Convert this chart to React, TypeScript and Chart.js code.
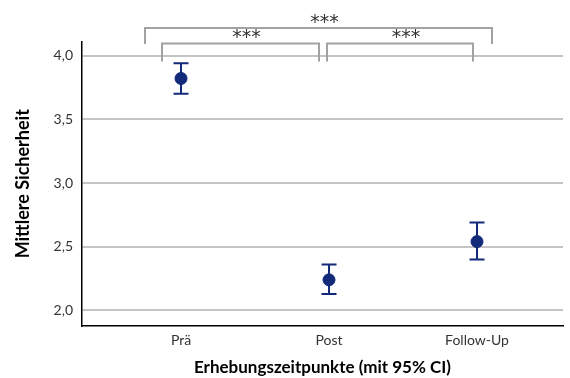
import React, { useEffect, useRef } from "react";
import { Chart, registerables } from "chart.js";

Chart.register(...registerables);

const categories = ["Prä", "Post", "Follow-Up"];
const means = [3.82, 2.24, 2.54];
const ciLower = [3.7, 2.13, 2.4];
const ciUpper = [3.94, 2.36, 2.69];
const yTickValues = [2.0, 2.5, 3.0, 3.5, 4.0];
const yTickLabels = ["2,0", "2,5", "3,0", "3,5", "4,0"];
const bracketFrom = [0, 0, 1];
const bracketTo = [2, 1, 2];
const bracketLevel = [2, 1, 1];
const bracketLabels = ["***", "***", "***"];

const NAVY = "#13297a";
const FONT = "Lato, 'Liberation Sans', sans-serif";

export default function App() {
  const ref = useRef<HTMLCanvasElement | null>(null);

  useEffect(() => {
    if (!ref.current) return;

    const errorBars = {
      id: "errorBars",
      beforeDatasetsDraw(chart: any) {
        const { ctx } = chart;
        const xs = chart.scales.x;
        const ys = chart.scales.y;
        ctx.save();
        ctx.strokeStyle = NAVY;
        ctx.lineWidth = 2;
        for (let i = 0; i < means.length; i++) {
          const x = xs.getPixelForValue(i);
          const y1 = ys.getPixelForValue(ciLower[i]);
          const y2 = ys.getPixelForValue(ciUpper[i]);
          ctx.beginPath();
          ctx.moveTo(x, y1);
          ctx.lineTo(x, y2);
          ctx.moveTo(x - 7.5, y1);
          ctx.lineTo(x + 7.5, y1);
          ctx.moveTo(x - 7.5, y2);
          ctx.lineTo(x + 7.5, y2);
          ctx.stroke();
        }
        ctx.restore();
      },
    };

    const brackets = {
      id: "brackets",
      afterDraw(chart: any) {
        const { ctx, chartArea } = chart;
        const xs = chart.scales.x;
        ctx.save();
        ctx.strokeStyle = "#a2a2a2";
        ctx.lineWidth = 2;
        ctx.fillStyle = "#333333";
        ctx.font = "19px 'DejaVu Sans', sans-serif";
        ctx.textAlign = "center";
        ctx.textBaseline = "middle";
        for (let i = 0; i < bracketFrom.length; i++) {
          const outer = bracketLevel[i] === 2;
          const x1 = xs.getPixelForValue(bracketFrom[i]) + (outer ? -36 : i === 1 ? -19 : -2);
          const x2 = xs.getPixelForValue(bracketTo[i]) + (outer ? 15 : i === 1 ? -10 : -4);
          const top = outer ? chartArea.top - 14 : chartArea.top + 1.5;
          const leg = outer ? 16 : 18;
          ctx.beginPath();
          ctx.moveTo(x1, top + leg);
          ctx.lineTo(x1, top);
          ctx.lineTo(x2, top);
          ctx.lineTo(x2, top + leg);
          ctx.stroke();
          ctx.fillText(bracketLabels[i], (x1 + x2) / 2 + 6, top - 5);
        }
        ctx.restore();
      },
    };

    const chart = new Chart(ref.current, {
      type: "scatter",
      data: {
        datasets: [
          {
            data: means.map((m, i) => ({ x: i, y: m })),
            backgroundColor: NAVY,
            borderColor: NAVY,
            pointRadius: 6,
            pointHoverRadius: 6,
          },
        ],
      },
      options: {
        animation: false,
        responsive: false,
        devicePixelRatio: 1,
        layout: { padding: { top: 42, left: 0, right: 0, bottom: 0 } },
        plugins: { legend: { display: false }, tooltip: { enabled: false } },
        scales: {
          x: {
            type: "linear",
            min: -0.669,
            max: 2.581,
            afterBuildTicks: (s: any) => {
              s.ticks = categories.map((_, i) => ({ value: i }));
            },
            afterFit: (s: any) => {
              s.height = 52.5;
            },
            ticks: {
              callback: (v: any) => categories[v as number] ?? "",
              color: "#333333",
              font: { family: FONT, size: 14 },
              padding: 7,
              maxRotation: 0,
              autoSkip: false,
            },
            grid: { display: false, drawTicks: false },
            border: { display: true, color: "#000000", width: 1.5 },
            title: {
              display: true,
              text: "Erhebungszeitpunkte (mit 95% CI)",
              color: "#000000",
              font: { family: FONT, size: 17, weight: "bold" },
              padding: { top: 0, bottom: 0 },
            },
          },
          y: {
            min: 1.882,
            max: 4.106,
            afterBuildTicks: (s: any) => {
              s.ticks = yTickValues.map((v) => ({ value: v }));
            },
            afterFit: (s: any) => {
              s.width = 82;
            },
            ticks: {
              callback: (v: any) => yTickLabels[yTickValues.indexOf(v as number)] ?? "",
              color: "#333333",
              font: { family: FONT, size: 14 },
              padding: 9,
            },
            grid: { color: "#c4c4c4", lineWidth: 2, drawTicks: false },
            border: { display: true, color: "#000000", width: 1.5 },
            title: {
              display: true,
              text: "Mittlere Sicherheit",
              color: "#000000",
              font: { family: FONT, size: 18, weight: "bold" },
              padding: { top: 12, bottom: 0 },
            },
          },
        },
      },
      plugins: [errorBars, brackets],
    } as any);

    return () => chart.destroy();
  }, []);

  return (
    <div style={{ position: "absolute", left: 0, top: 0, width: 570, height: 378, background: "#ffffff" }}>
      <canvas ref={ref} width={570} height={378} />
    </div>
  );
}
